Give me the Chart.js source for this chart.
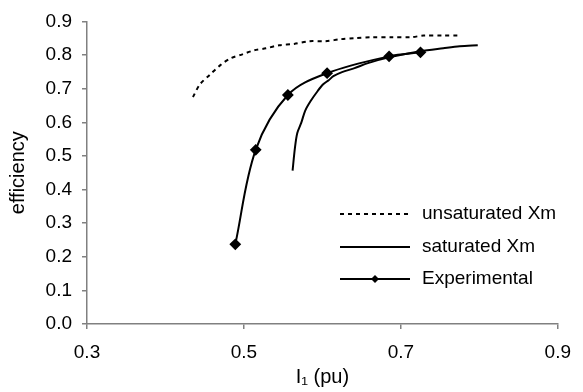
<!DOCTYPE html>
<html>
<head>
<meta charset="utf-8">
<script src="https://cdn.jsdelivr.net/npm/chart.js@4.4.0/dist/chart.umd.min.js"></script>
<style>
  html, body { margin: 0; padding: 0; background: #fff; }
</style>
</head>
<body>
<canvas id="chart" width="583" height="392"></canvas>
<script>
// values
const unsatX = [0.435, 0.444, 0.456, 0.470, 0.483, 0.498, 0.513, 0.528, 0.545, 0.564, 0.583, 0.604, 0.623, 0.641, 0.663, 0.688, 0.713, 0.729, 0.754, 0.773];
const unsatY = [0.675, 0.713, 0.740, 0.770, 0.790, 0.802, 0.814, 0.820, 0.829, 0.833, 0.841, 0.841, 0.847, 0.850, 0.853, 0.853, 0.853, 0.858, 0.858, 0.858];

const satX = [0.562, 0.565, 0.568, 0.573, 0.578, 0.585, 0.594, 0.601, 0.608, 0.614, 0.625, 0.641, 0.658, 0.685, 0.725, 0.754, 0.775, 0.798];
const satY = [0.456, 0.524, 0.568, 0.598, 0.634, 0.663, 0.693, 0.713, 0.725, 0.737, 0.749, 0.761, 0.776, 0.793, 0.811, 0.820, 0.826, 0.829];

const expX = [0.489, 0.515, 0.556, 0.606, 0.685, 0.725];
const expY = [0.237, 0.518, 0.681, 0.746, 0.796, 0.808];

const seriesNames = ['unsaturated Xm', 'saturated Xm', 'Experimental'];
const xTicks = [0.3, 0.5, 0.7, 0.9];

const FONT = "'Liberation Sans', Arial, sans-serif";

function toPoints(xs, ys) {
    return xs.map((x, i) => ({ x: x, y: ys[i] }));
}

// legend drawn inside the plot, like the original
const insideLegend = {
    id: 'insideLegend',
    afterDatasetsDraw(chart) {
        const ctx = chart.ctx;
        const rows = [214, 247, 279];
        const x0 = 340, x1 = 410;
        ctx.save();
        chart.data.datasets.forEach((ds, i) => {
            const y = rows[i];
            ctx.strokeStyle = '#000';
            ctx.lineWidth = 2;
            ctx.setLineDash(ds.borderDash || []);
            ctx.beginPath();
            ctx.moveTo(x0, y);
            ctx.lineTo(x1, y);
            ctx.stroke();
            ctx.setLineDash([]);
            if (ds.pointRadius > 0) {
                const cx = (x0 + x1) / 2, r = 4;
                ctx.fillStyle = '#000';
                ctx.beginPath();
                ctx.moveTo(cx, y - r);
                ctx.lineTo(cx + r, y);
                ctx.lineTo(cx, y + r);
                ctx.lineTo(cx - r, y);
                ctx.closePath();
                ctx.fill();
            }
            ctx.fillStyle = '#000';
            ctx.font = '19px ' + FONT;
            ctx.textBaseline = 'middle';
            ctx.textAlign = 'left';
            ctx.fillText(ds.label, 422, y);
        });
        ctx.restore();
    }
};

const ctx = document.getElementById('chart').getContext('2d');
new Chart(ctx, {
    type: 'scatter',
    data: {
        datasets: [{
            label: seriesNames[0],
            data: toPoints(unsatX, unsatY),
            showLine: true,
            borderColor: '#000',
            borderWidth: 2,
            borderDash: [4, 4],
            pointRadius: 0,
            tension: 0.3
        }, {
            label: seriesNames[1],
            data: toPoints(satX, satY),
            showLine: true,
            borderColor: '#000',
            borderWidth: 2,
            pointRadius: 0,
            tension: 0.3
        }, {
            label: seriesNames[2],
            data: toPoints(expX, expY),
            showLine: true,
            borderColor: '#000',
            borderWidth: 2,
            pointRadius: 4.5,
            pointStyle: 'rectRot',
            pointBackgroundColor: '#000',
            pointBorderColor: '#000',
            tension: 0.35
        }]
    },
    options: {
        responsive: false,
        animation: false,
        layout: { padding: { top: 20, right: 15, left: 0, bottom: 0 } },
        plugins: {
            legend: { display: false },
            tooltip: { enabled: false }
        },
        scales: {
            x: {
                type: 'linear',
                min: 0.3,
                max: 0.9,
                afterBuildTicks: s => { s.ticks = xTicks.map(v => ({ value: v })); },
                afterFit: s => { s.height = 68; },
                ticks: {
                    color: '#000',
                    font: { size: 19, family: FONT },
                    padding: 12,
                    maxRotation: 0,
                    callback: v => v.toFixed(1)
                },
                grid: { drawOnChartArea: false, drawTicks: true, tickLength: 5, color: '#808080', lineWidth: 1.5 },
                border: { color: '#808080', width: 1.5 },
                title: {
                    display: true,
                    text: 'I\u2081 (pu)',
                    color: '#000',
                    font: { size: 20, family: FONT },
                    padding: { top: 0, bottom: 3 }
                }
            },
            y: {
                min: 0,
                max: 0.9,
                afterFit: s => { s.width = 87; },
                ticks: {
                    stepSize: 0.1,
                    color: '#000',
                    font: { size: 19, family: FONT },
                    padding: 10,
                    callback: v => v.toFixed(1)
                },
                grid: { drawOnChartArea: false, drawTicks: true, tickLength: 5, color: '#808080', lineWidth: 1.5 },
                border: { color: '#808080', width: 1.5 },
                title: {
                    display: true,
                    text: 'efficiency',
                    color: '#000',
                    font: { size: 20, family: FONT },
                    padding: { top: 6, bottom: 0 }
                }
            }
        }
    },
    plugins: [insideLegend]
});
</script>
</body>
</html>
